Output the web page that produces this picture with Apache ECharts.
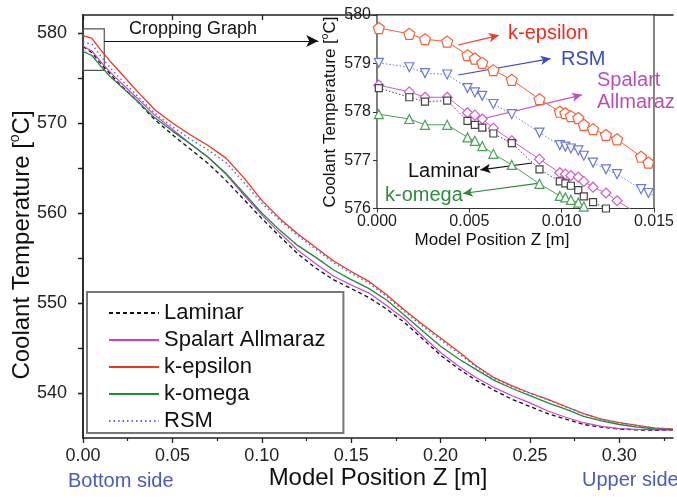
<!DOCTYPE html>
<html><head><meta charset="utf-8">
<script src="https://cdn.jsdelivr.net/npm/echarts@6/dist/echarts.min.js"></script>
<style>html,body{margin:0;padding:0;background:#fff}#c{width:677px;height:500px}</style>
</head><body><div id="c"></div>
<script>
// ---------- main chart data ----------
const mainZ = [0, 0.005, 0.01, 0.015, 0.02, 0.03, 0.04, 0.05, 0.06, 0.07, 0.08, 0.09, 0.10, 0.11, 0.12, 0.13, 0.14, 0.15, 0.16, 0.17, 0.18, 0.19, 0.20, 0.21, 0.22, 0.23, 0.24, 0.25, 0.26, 0.27, 0.28, 0.29, 0.30, 0.31, 0.32, 0.33];
const laminar = [578.5, 577.8, 576.6, 575.5, 574.4, 572.5, 570.4, 568.7, 567.1, 565.5, 563.6, 561.5, 559.4, 557.4, 555.5, 553.9, 552.6, 551.6, 550.6, 549.3, 547.8, 546.0, 544.2, 542.7, 541.4, 540.3, 539.3, 538.5, 537.7, 537.1, 536.5, 536.2, 536.0, 535.9, 535.85, 535.9];
const spalart = [578.55, 578.0, 576.8, 575.7, 574.7, 572.8, 570.9, 569.3, 567.7, 566.2, 564.3, 562.0, 559.8, 557.8, 555.9, 554.4, 553.0, 552.0, 551.1, 549.7, 548.2, 546.3, 544.5, 543.0, 541.7, 540.6, 539.7, 538.9, 538.0, 537.3, 536.7, 536.3, 536.05, 535.95, 535.9, 535.9];
const kEpsilon = [579.7, 579.4, 578.1, 576.9, 575.8, 573.6, 571.5, 570.0, 568.7, 567.5, 566.1, 563.9, 561.4, 559.4, 557.7, 556.2, 554.7, 553.5, 552.4, 550.9, 549.2, 547.6, 546.1, 544.6, 543.0, 541.7, 540.8, 540.0, 539.3, 538.5, 537.7, 537.1, 536.7, 536.4, 536.1, 536.0];
const kOmega = [577.95, 577.5, 576.3, 575.2, 574.3, 572.5, 570.6, 569.1, 567.7, 566.2, 564.4, 562.2, 560.0, 558.1, 556.4, 555.1, 553.7, 552.6, 551.6, 550.3, 548.6, 546.9, 545.2, 543.8, 542.6, 541.4, 540.5, 539.7, 538.9, 538.2, 537.4, 536.9, 536.5, 536.2, 536.0, 535.9];
const rsm = [579.0, 578.75, 577.4, 576.2, 575.1, 573.1, 571.1, 569.6, 568.2, 567.0, 565.6, 563.4, 561.1, 559.2, 557.5, 556.0, 554.5, 553.3, 552.2, 550.7, 549.0, 547.4, 545.9, 544.4, 542.9, 541.6, 540.7, 539.95, 539.25, 538.45, 537.7, 537.05, 536.65, 536.35, 536.1, 536.0];

const mainXTicks = [0, 0.05, 0.10, 0.15, 0.20, 0.25, 0.30];
const mainXMinor = [0.025, 0.075, 0.125, 0.175, 0.225, 0.275, 0.325];
const mainYTicks = [540, 550, 560, 570, 580];
const mainYMinor = [545, 555, 565, 575];

// ---------- inset data ----------
const insetZ = [0.0001, 0.00175, 0.0026, 0.0038, 0.0049, 0.0053, 0.0057, 0.0063, 0.0073, 0.0088, 0.0099, 0.0102, 0.0105, 0.0109, 0.0112, 0.0117, 0.0124, 0.0130, 0.0143, 0.0147, 0.0151];
const kEpsIn = [579.73, 579.61, 579.50, 579.45, 579.17, 579.10, 579.01, 578.86, 578.66, 578.26, 578.00, 577.97, 577.91, 577.87, 577.73, 577.64, 577.52, 577.43, 577.07, 576.95, 576.88];
const rsmIn = [579.01, 578.92, 578.80, 578.77, 578.49, 578.40, 578.33, 578.16, 577.95, 577.57, 577.31, 577.28, 577.24, 577.20, 577.09, 576.95, 576.81, 576.71, 576.40, 576.32, 576.25];
const spaIn = [578.55, 578.41, 578.30, 578.30, 577.98, 577.93, 577.85, 577.66, 577.40, 577.02, 576.74, 576.71, 576.68, 576.65, 576.56, 576.44, 576.32, 576.16, 575.85, 575.78, 575.72];
const lamIn = [578.49, 578.30, 578.21, 578.23, 577.81, 577.73, 577.67, 577.55, 577.35, 576.81, 576.56, 576.52, 576.47, 576.38, 576.25, 576.13, 576.00, 575.88, 575.60, 575.50, 575.45];
const kOmIn = [577.95, 577.85, 577.73, 577.73, 577.47, 577.40, 577.29, 577.13, 576.90, 576.51, 576.26, 576.23, 576.18, 576.12, 576.04, 575.95, 575.80, 575.70, 575.40, 575.30, 575.25];

const F = '"Liberation Sans", Arial, sans-serif';
const pairs = (xs, ys) => xs.map((x, i) => [x, ys[i]]);
const AX = '#222';

const chart = echarts.init(document.getElementById('c'));

function mainSeries(name, data, color, type, width) {
  return {
    name, type: 'line', xAxisIndex: 0, yAxisIndex: 0, data: pairs(mainZ, data),
    symbol: 'none', smooth: false, z: 3,
    lineStyle: { color, width, type }, itemStyle: { color }
  };
}
function insetSeries(name, data, color, lineType, symbol, size) {
  return {
    name, type: 'line', xAxisIndex: 3, yAxisIndex: 3, data: pairs(insetZ, data),
    symbol, symbolSize: size, showSymbol: true, z: 5,
    lineStyle: { color, width: 1, type: lineType },
    itemStyle: { color: '#fff', borderColor: color, borderWidth: 1.2 }
  };
}
function arrow(from, to, color) {
  return {
    silent: true, symbol: ['none', 'arrow'], symbolSize: [7, 10], animation: false,
    lineStyle: { color, width: 1.2, type: 'solid' }, label: { show: false },
    data: [[{ coord: from }, { coord: to }]]
  };
}

const pent = 'path://M0,-1 L0.951,-0.309 L0.588,0.809 L-0.588,0.809 L-0.951,-0.309 Z';
const tri = 'path://M-1,-0.85 L1,-0.85 L0,0.9 Z';

const sEps = mainSeries('k-epsilon', kEpsilon, '#f5321c', 'solid', 1.3);
sEps.markArea = {
  silent: true, itemStyle: { color: 'rgba(0,0,0,0)', borderColor: '#555', borderWidth: 1.2 },
  data: [[{ coord: [0, 580.45] }, { coord: [0.0119, 575.85] }]]
};
sEps.markLine = arrow([0.0119, 579.1], [0.1316, 579.1], '#111');
sEps.markLine.symbolSize = [9, 12];

const insEps = insetSeries('ke_in', kEpsIn, '#f5603a', 'solid', pent, 11);
insEps.markLine = arrow([0.0044, 579.38], [0.0066, 579.58], '#f03a2a');
const insRsm = insetSeries('rsm_in', rsmIn, '#6b78d6', [1.5, 2], tri, 9);
insRsm.markLine = arrow([0.0044, 578.76], [0.0094, 579.1], '#3b4cc0');
const insSpa = insetSeries('spa_in', spaIn, '#c95fc9', 'solid', 'diamond', 10);
insSpa.markLine = arrow([0.0059, 577.87], [0.0111, 578.35], '#c050c0');
const insLam = insetSeries('lam_in', lamIn, '#444', [1.5, 2], 'rect', 7);
insLam.markLine = arrow([0.0084, 576.94], [0.0056, 576.80], '#111');
const insOm = insetSeries('om_in', kOmIn, '#4aa05a', 'solid', 'triangle', 9);
insOm.markLine = arrow([0.0087, 576.52], [0.00465, 576.31], '#2e8b3e');

const option = {
  animation: false,
  backgroundColor: '#fff',
  textStyle: { fontFamily: F },
  grid: [
    { left: 83, top: 15, width: 590, height: 423, show: false },
    { left: 377, top: 15, width: 296, height: 193.5, show: true, backgroundColor: '#fff', borderColor: '#333', borderWidth: 1.2, z: 1 }
  ],
  xAxis: [
    { type: 'value', gridIndex: 0, min: 0, max: 0.33, position: 'bottom',
      axisLine: { lineStyle: { color: AX, width: 1.5 } },
      axisTick: { customValues: mainXTicks, length: 5, inside: false, lineStyle: { color: AX, width: 1.3 } },
      axisLabel: { customValues: mainXTicks, formatter: v => v.toFixed(2), fontSize: 18, color: '#222', margin: 9, fontFamily: F },
      splitLine: { show: false } },
    { type: 'value', gridIndex: 0, min: 0, max: 0.33, position: 'bottom',
      axisLine: { show: false },
      axisTick: { customValues: mainXMinor, length: 3, inside: false, lineStyle: { color: AX, width: 1.2 } },
      axisLabel: { show: false }, splitLine: { show: false } },
    { type: 'value', gridIndex: 0, min: 0, max: 0.33, position: 'top',
      axisLine: { lineStyle: { color: AX, width: 1.5 } },
      axisTick: { customValues: mainXTicks, length: 5, inside: true, lineStyle: { color: AX, width: 1.3 } },
      axisLabel: { show: false }, splitLine: { show: false } },
    { type: 'value', gridIndex: 1, min: 0, max: 0.015, interval: 0.005, position: 'bottom',
      axisLine: { lineStyle: { color: '#333', width: 1.2 } },
      axisTick: { length: 4, inside: false, lineStyle: { color: '#333' } },
      axisLabel: { formatter: v => v.toFixed(3), fontSize: 16, color: '#222', margin: 5, fontFamily: F },
      splitLine: { show: false } }
  ],
  yAxis: [
    { type: 'value', gridIndex: 0, min: 535, max: 582, position: 'left',
      axisLine: { show: true, lineStyle: { color: AX, width: 1.5 } },
      axisTick: { show: true, customValues: mainYTicks, length: 5, inside: false, lineStyle: { color: AX, width: 1.3 } },
      axisLabel: { customValues: mainYTicks, fontSize: 18, color: '#222', margin: 16, fontFamily: F },
      splitLine: { show: false } },
    { type: 'value', gridIndex: 0, min: 535, max: 582, position: 'left',
      axisLine: { show: false },
      axisTick: { show: true, customValues: mainYMinor, length: 3, inside: false, lineStyle: { color: AX, width: 1.2 } },
      axisLabel: { show: false }, splitLine: { show: false } },
    { type: 'value', gridIndex: 0, min: 535, max: 582, position: 'right',
      axisLine: { show: true, lineStyle: { color: AX, width: 1.5 } },
      axisTick: { show: true, customValues: mainYTicks.concat(mainYMinor), length: 5, inside: true, lineStyle: { color: AX, width: 1.3 } },
      axisLabel: { show: false }, splitLine: { show: false } },
    { type: 'value', gridIndex: 1, min: 576, max: 580, interval: 1, position: 'left',
      axisLine: { show: true, lineStyle: { color: '#333', width: 1.2 } },
      axisTick: { show: true, length: 4, inside: false, lineStyle: { color: '#333' } },
      axisLabel: { fontSize: 16, color: '#222', margin: 6, fontFamily: F },
      splitLine: { show: false } }
  ],
  legend: {
    data: ['Laminar', 'Spalart Allmaraz', 'k-epsilon', 'k-omega', 'RSM'],
    orient: 'vertical', left: 87, top: 292,
    padding: [10, 18, 1, 21], itemGap: 5, itemWidth: 50, itemHeight: 14,
    itemStyle: { opacity: 0 },
    textStyle: { fontSize: 22, fontFamily: F, color: '#111', lineHeight: 22 },
    borderColor: '#777', borderWidth: 2, backgroundColor: '#fff', z: 6
  },
  series: [
    mainSeries('Laminar', laminar, '#111', [4, 3], 1.3),
    mainSeries('Spalart Allmaraz', spalart, '#d040d0', 'solid', 1.2),
    sEps,
    mainSeries('k-omega', kOmega, '#1f8a3a', 'solid', 1.3),
    mainSeries('RSM', rsm, '#5a6ae0', [1.5, 3], 1.5),
    insEps, insRsm, insSpa, insLam, insOm
  ],
  graphic: [
    { type: 'text', x: 22, y: 245, rotation: Math.PI / 2, z: 10,
      style: { text: '{a|Coolant Temperature [}{b|o}{a|C]}', align: 'center', verticalAlign: 'middle', fill: '#111',
        rich: { a: { fontSize: 24, lineHeight: 28, fontFamily: F, fill: '#111' }, b: { fontSize: 14, lineHeight: 14, verticalAlign: 'top', fontFamily: F, fill: '#111' } } } },
    { type: 'text', x: 378, y: 478, z: 10,
      style: { text: 'Model Position Z [m]', align: 'center', verticalAlign: 'middle', fill: '#111', fontSize: 24, fontFamily: F } },
    { type: 'text', x: 68, y: 481, z: 10,
      style: { text: 'Bottom side', align: 'left', verticalAlign: 'middle', fill: '#4a5ab8', fontSize: 20, fontFamily: F } },
    { type: 'text', x: 582, y: 480, z: 10,
      style: { text: 'Upper side', align: 'left', verticalAlign: 'middle', fill: '#4a5ab8', fontSize: 20, fontFamily: F } },
    { type: 'text', x: 129, y: 29, z: 10,
      style: { text: 'Cropping Graph', align: 'left', verticalAlign: 'middle', fill: '#111', fontSize: 18, fontFamily: F } },
    { type: 'text', x: 330, y: 112, rotation: Math.PI / 2, z: 10,
      style: { text: '{a|Coolant Temperature [}{b|o}{a|C]}', align: 'center', verticalAlign: 'middle', fill: '#111',
        rich: { a: { fontSize: 17, lineHeight: 20, fontFamily: F, fill: '#111' }, b: { fontSize: 10, lineHeight: 10, verticalAlign: 'top', fontFamily: F, fill: '#111' } } } },
    { type: 'text', x: 492, y: 240, z: 10,
      style: { text: 'Model Position Z [m]', align: 'center', verticalAlign: 'middle', fill: '#111', fontSize: 17, fontFamily: F } },
    { type: 'text', x: 508, y: 33, z: 10,
      style: { text: 'k-epsilon', align: 'left', verticalAlign: 'middle', fill: '#f22a1a', fontSize: 20, fontFamily: F } },
    { type: 'text', x: 561, y: 59, z: 10,
      style: { text: 'RSM', align: 'left', verticalAlign: 'middle', fill: '#3b4cc0', fontSize: 20, fontFamily: F } },
    { type: 'text', x: 597, y: 80, z: 10,
      style: { text: 'Spalart', align: 'left', verticalAlign: 'middle', fill: '#b84fb8', fontSize: 20, fontFamily: F } },
    { type: 'text', x: 597, y: 102, z: 10,
      style: { text: 'Allmaraz', align: 'left', verticalAlign: 'middle', fill: '#b84fb8', fontSize: 20, fontFamily: F } },
    { type: 'text', x: 408, y: 171, z: 10,
      style: { text: 'Laminar', align: 'left', verticalAlign: 'middle', fill: '#111', fontSize: 20, fontFamily: F } },
    { type: 'text', x: 385, y: 195, z: 10,
      style: { text: 'k-omega', align: 'left', verticalAlign: 'middle', fill: '#2e8b3e', fontSize: 20, fontFamily: F } }
  ]
};
chart.setOption(option);
</script>
</body></html>
